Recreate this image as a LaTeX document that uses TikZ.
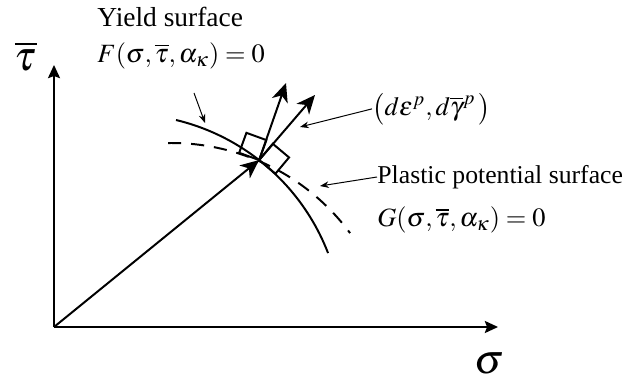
\documentclass[tikz,border=0pt]{standalone}
\usepackage{mathptmx}
\usepackage[no-math]{fontspec}
\setmainfont{Liberation Serif}
\usetikzlibrary{arrows.meta}
\begin{document}
\begin{tikzpicture}[x=1cm,y=1cm,
  font=\fontsize{12}{14}\selectfont,
  axis/.style={line width=0.9pt,-{Stealth[length=6pt,width=5.5pt,inset=1pt]}},
  vec/.style={line width=0.9pt,-{Stealth[length=8.5pt,width=7.5pt,inset=2.5pt]}},
  surf/.style={line width=0.9pt},
  lead/.style={line width=0.45pt,-{Stealth[length=4pt,width=3pt]}},
  lbl/.style={inner sep=0pt,anchor=west}]
\useasboundingbox (-0.864,-0.816) rectangle (9.168,5.232);
% axes
\coordinate (O) at (0,0);
\coordinate (xend) at (7.104,0);
\coordinate (yend) at (0,4.192);
\draw[axis] (O) -- (xend);
\draw[axis] (O) -- (yend);
\node (taulab) at (-0.45,4.33) {\fontsize{19}{22}\selectfont$\overline{\tau}$};
\node (sigmalab) at (6.96,-0.58) {\fontsize{19}{22}\selectfont$\sigma$};
% yield surface and plastic potential surface
\draw[surf] (1.141,-0.069) ++(76.5:3.477) arc[start angle=76.5,end angle=21.1,radius=3.477];
\draw[surf,dash pattern=on 6pt off 4.5pt] (1.877,-0.614) ++(90.85:3.558) arc[start angle=90.85,end angle=36.5,radius=3.558];
% stress point and normals
\coordinate (P) at (3.282,2.671);
\coordinate (nG) at (3.712,3.904);
\coordinate (nF) at (4.176,3.712);
\draw[surf] (P) -- ++(70:0.34) -- ++(160:0.34) -- ++(250:0.34) -- cycle;
\draw[surf] (P) -- ++(50:0.34) -- ++(-40:0.34) -- ++(-130:0.34) -- cycle;
\draw[vec] (O) -- (P);
\draw[vec] (P) -- (nG);
\draw[vec] (P) -- (nF);
% labels
\node[lbl] (yieldtxt) at (0.688,4.96) {\fontsize{12.5}{14}\selectfont Yield surface};
\node[lbl] (Flab) at (0.688,4.34) {$F(\sigma,\overline{\tau},\alpha_{\kappa})=0$};
\node[lbl] (dlab) at (5.088,3.49) {$\bigl(d\varepsilon^{p},d\overline{\gamma}^{p}\,\bigr)$};
\node[lbl] (plastictxt) at (5.168,2.4) {\fontsize{11.7}{14}\selectfont Plastic potential surface};
\node[lbl] (Glab) at (5.168,1.71) {$G(\sigma,\overline{\tau},\alpha_{\kappa})=0$};
% leaders
\coordinate (Fstart) at (2.24,3.744);
\coordinate (Ftip) at (2.416,3.264);
\coordinate (dtip) at (3.936,3.2);
\coordinate (Gtip) at (4.256,2.256);
\draw[lead] (Fstart) -- (Ftip);
\draw[lead] (dlab.west) -- (dtip);
\draw[lead] (plastictxt.west) -- (Gtip);
\end{tikzpicture}
\end{document}
